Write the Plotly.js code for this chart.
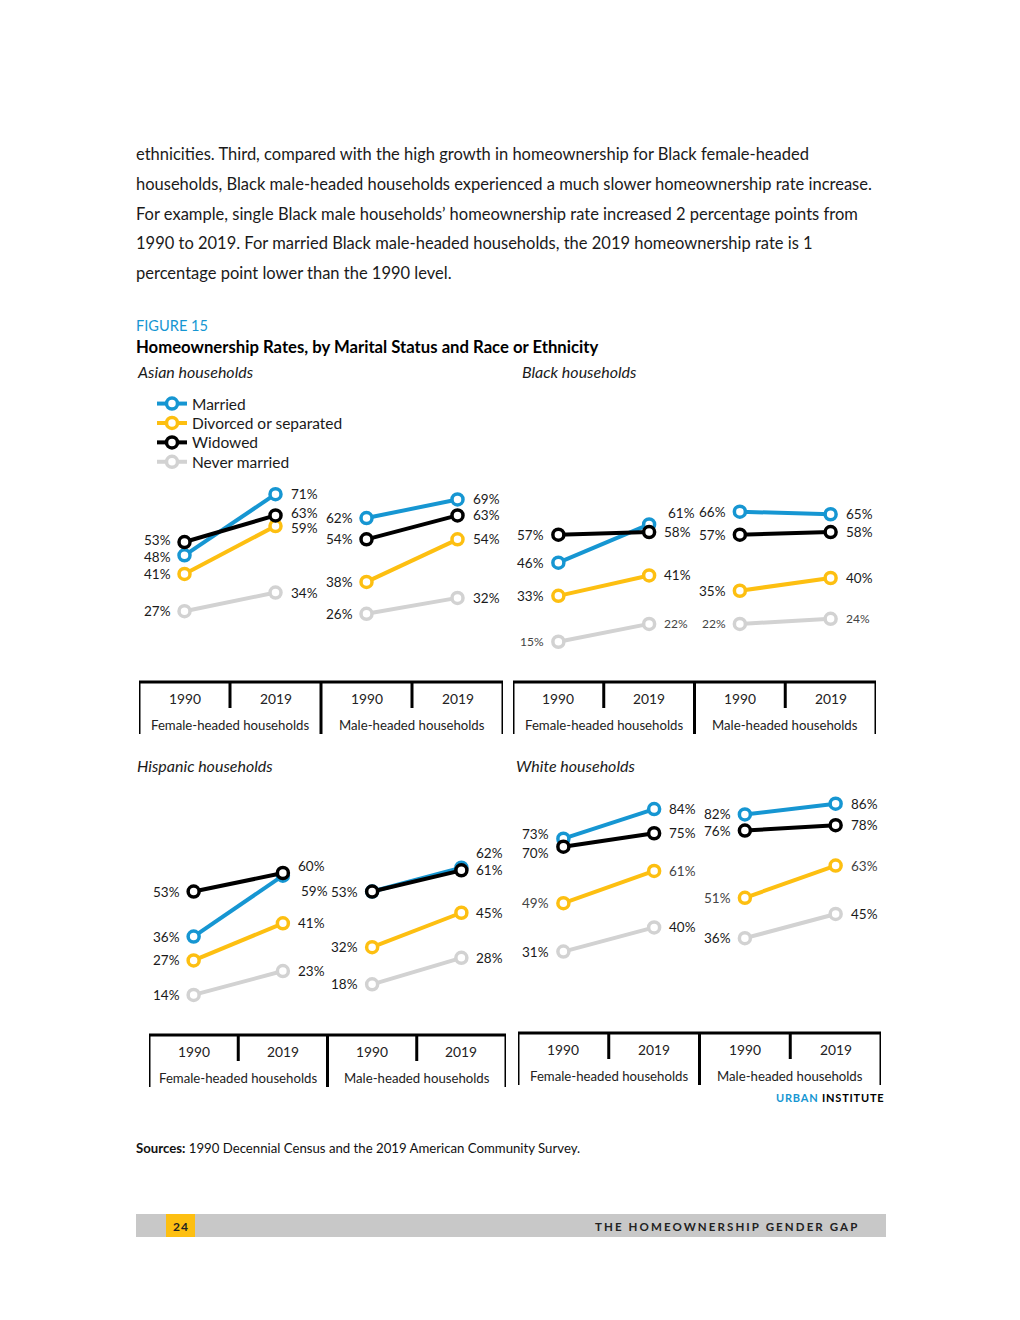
<!DOCTYPE html>
<html>
<head>
<meta charset="utf-8">
<script src="https://cdn.plot.ly/plotly-3.0.1.min.js"></script>
<style>
html,body{margin:0;padding:0;background:#fff;}
#chart{width:1020px;height:1320px;}
</style>
</head>
<body>
<div id="chart"></div>
<script>
// ---------- DATA ----------
const statuses = ['Married', 'Divorced or separated', 'Widowed', 'Never married'];
const years = ['1990', '2019'];
const genders = ['Female-headed households', 'Male-headed households'];
const categories = ['Female 1990', 'Female 2019', 'Male 1990', 'Male 2019'];

// each row: [1990, 2019] for statuses in order above
const asianFemale = [[48, 71], [41, 59], [53, 63], [27, 34]];
const asianMale = [[62, 69], [38, 54], [54, 63], [26, 32]];
const blackFemale = [[46, 61], [33, 41], [57, 58], [15, 22]];
const blackMale = [[66, 65], [35, 40], [57, 58], [22, 24]];
const hispanicFemale = [[36, 59], [27, 41], [53, 60], [14, 23]];
const hispanicMale = [[53, 62], [32, 45], [53, 61], [18, 28]];
const whiteFemale = [[73, 84], [49, 61], [70, 75], [31, 40]];
const whiteMale = [[82, 86], [51, 63], [76, 78], [36, 45]];

const panelTitles = ['Asian households', 'Black households', 'Hispanic households', 'White households'];

const paragraph = [
  'ethnicities. Third, compared with the high growth in homeownership for Black female-headed',
  'households, Black male-headed households experienced a much slower homeownership rate increase.',
  'For example, single Black male households\u2019 homeownership rate increased 2 percentage points from',
  '1990 to 2019. For married Black male-headed households, the 2019 homeownership rate is 1',
  'percentage point lower than the 1990 level.'
];

// ---------- STYLE / LAYOUT ----------
const W = 1020, H = 1320;
const px = x => x / W;
const py = y => 1 - y / H;
const FONT = 'Lato, "Open Sans", sans-serif';
const colors = ['#1696d2', '#fdbf11', '#000000', '#d2d2d2'];
const drawOrder = [3, 1, 0, 2];

const panels = [
  {female: asianFemale, male: asianMale, x0: 139, x1: 503, base: 683, scale: 2.66, table: 682, tx: 135, ty: 372},
  {female: blackFemale, male: blackMale, x0: 513, x1: 876, base: 680, scale: 2.55, table: 682, tx: 520, ty: 372},
  {female: hispanicFemale, male: hispanicMale, x0: 149, x1: 506, base: 1032, scale: 2.65, table: 1035, tx: 135, ty: 765},
  {female: whiteFemale, male: whiteMale, x0: 518, x1: 881, base: 1035, scale: 2.69, table: 1033, tx: 514, ty: 765}
];

// label tweaks: panel-gender-status-year
const tweaks = {
  '0-0-2-0': {dy: 2},
  '0-0-0-0': {dy: -2},
  '0-0-2-1': {dy: 2},
  '0-0-1-1': {dy: -2},
  '1-0-0-1': {dy: 11, dx: 4},
  '2-0-2-1': {dy: 7},
  '2-0-0-1': {dy: -15, dx: 3},
  '2-1-0-0': {hide: true},
  '2-1-0-1': {dy: 15},
  '3-0-0-0': {dy: 5},
  '3-0-2-0': {dy: -6}
};

const traces = [];
const annotations = [];
const shapes = [];
const layout = {
  width: W, height: H,
  margin: {l: 0, r: 0, t: 0, b: 0},
  paper_bgcolor: '#fff', plot_bgcolor: 'rgba(0,0,0,0)',
  font: {family: FONT, color: '#1a1a1a'},
  hovermode: false,
  showlegend: true,
  legend: {
    x: px(152), y: py(387), xanchor: 'left', yanchor: 'top',
    font: {family: FONT, size: 15.5, color: '#1a1a1a'},
    bgcolor: 'rgba(0,0,0,0)', borderwidth: 0, tracegroupgap: 0, itemwidth: 30
  },
  annotations: annotations,
  shapes: shapes
};

panels.forEach((p, i) => {
  const n = i === 0 ? '' : String(i + 1);
  const xa = 'x' + n, ya = 'y' + n;
  layout['xaxis' + n] = {
    domain: [px(p.x0), px(p.x1)], anchor: ya, type: 'category',
    categoryarray: categories, categoryorder: 'array', range: [-0.5, 3.5],
    showgrid: false, zeroline: false, showline: false, showticklabels: false, ticks: '', fixedrange: true
  };
  layout['yaxis' + n] = {
    domain: [py(p.base), py(p.base - 100 * p.scale)], anchor: xa, range: [0, 100],
    showgrid: false, zeroline: false, showline: false, showticklabels: false, ticks: '', fixedrange: true
  };
  [p.female, p.male].forEach((vals, g) => {
    const xs = [categories[g * 2], categories[g * 2 + 1]];
    drawOrder.forEach(s => {
      traces.push({
        type: 'scatter', mode: 'lines+markers',
        x: xs, y: vals[s], xaxis: xa, yaxis: ya,
        name: statuses[s], legendrank: s + 1,
        showlegend: i === 0 && g === 0,
        line: {color: colors[s], width: 4},
        marker: {symbol: 'circle', size: 11, color: '#ffffff', line: {color: colors[s], width: 3.5}},
        cliponaxis: false, hoverinfo: 'skip'
      });
      vals[s].forEach((v, yi) => {
        const key = i + '-' + g + '-' + s + '-' + yi;
        const t = tweaks[key] || {};
        if (t.hide) return;
        const small = (i === 1 && s === 3);
        const gray = small || (i === 3 && s === 1);
        annotations.push({
          xref: xa, yref: ya, x: g * 2 + yi, y: v,
          text: v + '%', showarrow: false,
          xanchor: yi === 0 ? 'right' : 'left', yanchor: 'middle',
          xshift: (yi === 0 ? -12 : 13) + (t.dx || 0), yshift: t.dy || 0,
          font: {family: FONT, size: small ? 12 : 13.5, color: gray ? '#444444' : '#1a1a1a'}
        });
      });
    });
  });
  // category table
  const lw = 3;
  shapes.push({type: 'line', xref: xa, yref: 'paper', x0: -0.5, x1: 3.5, y0: py(p.table), y1: py(p.table), line: {color: '#000', width: lw}});
  [-0.5, 1.5, 3.5].forEach(x => shapes.push({type: 'line', xref: xa, yref: 'paper', x0: x, x1: x, y0: py(p.table), y1: py(p.table + 52), line: {color: '#000', width: lw}}));
  [0.5, 2.5].forEach(x => shapes.push({type: 'line', xref: xa, yref: 'paper', x0: x, x1: x, y0: py(p.table), y1: py(p.table + 26), line: {color: '#000', width: lw}}));
  categories.forEach((c, k) => annotations.push({
    xref: xa, yref: 'paper', x: k, y: py(p.table + 16), text: years[k % 2], showarrow: false,
    xanchor: 'center', yanchor: 'middle', font: {family: FONT, size: 13.8, color: '#222'}
  }));
  genders.forEach((gname, k) => annotations.push({
    xref: xa, yref: 'paper', x: k * 2 + 0.5, y: py(p.table + 43), text: gname, showarrow: false,
    xanchor: 'center', yanchor: 'middle', font: {family: FONT, size: 13.2, color: '#222'}
  }));
  annotations.push({
    xref: 'paper', yref: 'paper', x: px(p.tx), y: py(p.ty), text: '<i>' + panelTitles[i] + '</i>',
    showarrow: false, xanchor: 'left', yanchor: 'middle', font: {family: FONT, size: 16, color: '#1a1a1a'}
  });
});

// page text
paragraph.forEach((line, k) => annotations.push({
  xref: 'paper', yref: 'paper', x: px(134), y: py(153.5 + 30 * k), text: line, showarrow: false,
  xanchor: 'left', yanchor: 'middle', font: {family: FONT, size: 16.5, color: '#1a1a1a'}
}));
annotations.push({xref: 'paper', yref: 'paper', x: px(134), y: py(325), text: 'FIGURE 15', showarrow: false,
  xanchor: 'left', yanchor: 'middle', font: {family: FONT, size: 14.6, color: '#1696d2'}});
annotations.push({xref: 'paper', yref: 'paper', x: px(134), y: py(347),
  text: '<b>Homeownership Rates, by Marital Status and Race or Ethnicity</b>', showarrow: false,
  xanchor: 'left', yanchor: 'middle', font: {family: FONT, size: 16.7, color: '#000'}});
annotations.push({xref: 'paper', yref: 'paper', x: px(886), y: py(1097),
  text: '<span style="letter-spacing:0.8px"><b><span style="color:#1696d2">URBAN</span> INSTITUTE</b></span>', showarrow: false,
  xanchor: 'right', yanchor: 'middle', font: {family: FONT, size: 11, color: '#000'}});
annotations.push({xref: 'paper', yref: 'paper', x: px(134), y: py(1148),
  text: '<b>Sources:</b> 1990 Decennial Census and the 2019 American Community Survey.', showarrow: false,
  xanchor: 'left', yanchor: 'middle', font: {family: FONT, size: 13.2, color: '#111'}});

// footer bar
shapes.push({type: 'rect', xref: 'paper', yref: 'paper', x0: px(136), x1: px(886), y0: py(1237), y1: py(1214),
  fillcolor: '#c8c8c8', line: {width: 0}, layer: 'below'});
shapes.push({type: 'rect', xref: 'paper', yref: 'paper', x0: px(166), x1: px(195), y0: py(1237), y1: py(1214),
  fillcolor: '#fdbf11', line: {width: 0}, layer: 'below'});
annotations.push({xref: 'paper', yref: 'paper', x: px(180.5), y: py(1226), text: '<span style="letter-spacing:1px"><b>24</b></span>', showarrow: false,
  xanchor: 'center', yanchor: 'middle', font: {family: FONT, size: 12, color: '#222'}});
annotations.push({xref: 'paper', yref: 'paper', x: px(861), y: py(1226),
  text: '<span style="letter-spacing:2.1px"><b>THE HOMEOWNERSHIP GENDER GAP</b></span>', showarrow: false,
  xanchor: 'right', yanchor: 'middle', font: {family: FONT, size: 11.5, color: '#222'}});

Plotly.newPlot('chart', traces, layout, {staticPlot: true, displayModeBar: false}).then(gd => {
  // tighten legend row spacing to match the reference
  const items = Array.from(gd.querySelectorAll('.legend .traces'));
  const parsed = items.map(el => {
    const m = /translate\(\s*([-\d.]+)[ ,]+([-\d.]+)\s*\)/.exec(el.getAttribute('transform') || '');
    return {el, x: m ? +m[1] : 0, y: m ? +m[2] : 0};
  }).sort((a, b) => a.y - b.y);
  if (parsed.length) {
    const y0 = parsed[0].y;
    parsed.forEach((it, k) => it.el.setAttribute('transform', 'translate(' + it.x + ',' + (y0 + k * 19.4) + ')'));
  }
});
</script>
</body>
</html>
